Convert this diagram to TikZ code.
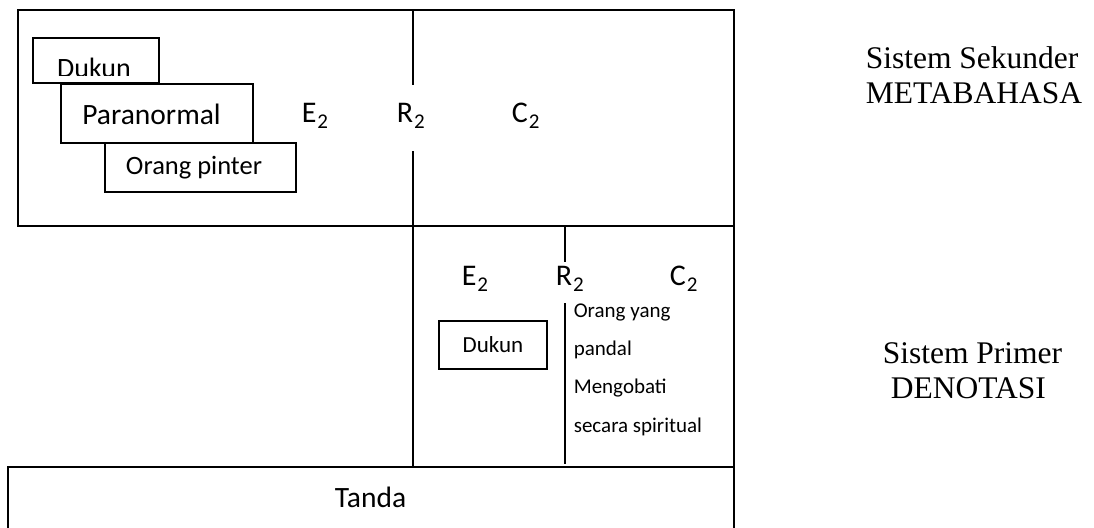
\documentclass[tikz,border=0pt]{standalone}
\usepackage{fontspec}
\setmainfont{Carlito}
\newfontfamily\timesfam{Liberation Serif}
\newcommand{\lowtwo}{\kern1pt\raisebox{-6pt}{\fontsize{21}{22}\selectfont 2}}
\begin{document}
\begin{tikzpicture}[x=1pt,y=-1pt,line width=1.6pt,
  tagbox/.style={draw,fill=white,inner sep=0pt,line width=1.6pt},
  bigtext/.style={inner sep=0pt,font=\fontsize{28}{32}\selectfont},
  symtext/.style={inner sep=0pt,anchor=base west,font=\fontsize{30}{34}\selectfont},
  notetext/.style={inner sep=0pt,anchor=base west,font=\fontsize{21}{24}\selectfont},
  sidetext/.style={inner sep=0pt,anchor=base west,font=\timesfam\fontsize{31.5}{36}\selectfont}]
\useasboundingbox (0,0) rectangle (1094,527);

% secondary system frame
\draw (18,10) rectangle (734,226);
% divider of the secondary system, broken around R2
\coordinate (va) at (413,10);
\coordinate (vb) at (413,85);
\coordinate (vc) at (413,151);
\coordinate (vd) at (413,467);
\draw (va) -- (vb);
\draw (vc) -- (vd);

% primary system frame
\coordinate (pa) at (734,226);
\coordinate (pb) at (734,467);
\draw (pa) -- (pb);
\coordinate (wa) at (565,226);
\coordinate (wb) at (565,262);
\coordinate (wc) at (565,303);
\coordinate (wd) at (565,464);
\draw (wa) -- (wb);
\draw (wc) -- (wd);

% sign box (runs off the bottom)
\coordinate (sa) at (8,530);
\coordinate (sb) at (8,467);
\coordinate (sc) at (734,467);
\coordinate (sd) at (734,530);
\draw (sa) -- (sb) -- (sc) -- (sd);
\node[bigtext,anchor=base,font=\fontsize{29.5}{32}\selectfont] (tanda) at (370.5,507) {Tanda};

% stacked boxes of the secondary system
\node[tagbox,minimum width=126pt,minimum height=45pt] (dukunA) at (96,60.5) {};
\begin{scope}
  \clip (33,38) rectangle (159,75.5);
  \node[bigtext,anchor=base] (dukunAtext) at (94,77.5) {Dukun};
\end{scope}
\node[tagbox,minimum width=192pt,minimum height=59pt] (para) at (157,113.5) {};
\node[bigtext,font=\fontsize{29.5}{32}\selectfont] (paratext) at (151.5,114) {Paranormal};
\node[tagbox,minimum width=191pt,minimum height=49pt] (pinter) at (200.5,167.5) {};
\node[bigtext,font=\fontsize{26.5}{30}\selectfont] (pintertext) at (194,168) {Orang pinter};

\node[symtext] (e2a) at (301,122) {E\lowtwo};
\node[symtext] (r2a) at (396,122) {R\lowtwo};
\node[symtext] (c2a) at (511,122) {C\lowtwo};

% primary system contents
\node[symtext] (e2b) at (461,285) {E\lowtwo};
\node[symtext] (r2b) at (555,285) {R\lowtwo};
\node[symtext] (c2b) at (669,285) {C\lowtwo};

\node[tagbox,minimum width=108pt,minimum height=48pt,font=\fontsize{23}{26}\selectfont] (dukunB) at (493,345) {Dukun};

\node[notetext] (n1) at (573,317) {Orang yang};
\node[notetext] (n2) at (573,355) {pandal};
\node[notetext] (n3) at (573,393) {Mengobati};
\node[notetext] (n4) at (573,432) {secara spiritual};

% side captions
\node[sidetext] (sek) at (865,68) {Sistem Sekunder};
\node[sidetext] (meta) at (865,103) {METABAHASA};
\node[sidetext] (prim) at (882,363) {Sistem Primer};
\node[sidetext] (deno) at (890,398) {DENOTASI};
\end{tikzpicture}
\end{document}
